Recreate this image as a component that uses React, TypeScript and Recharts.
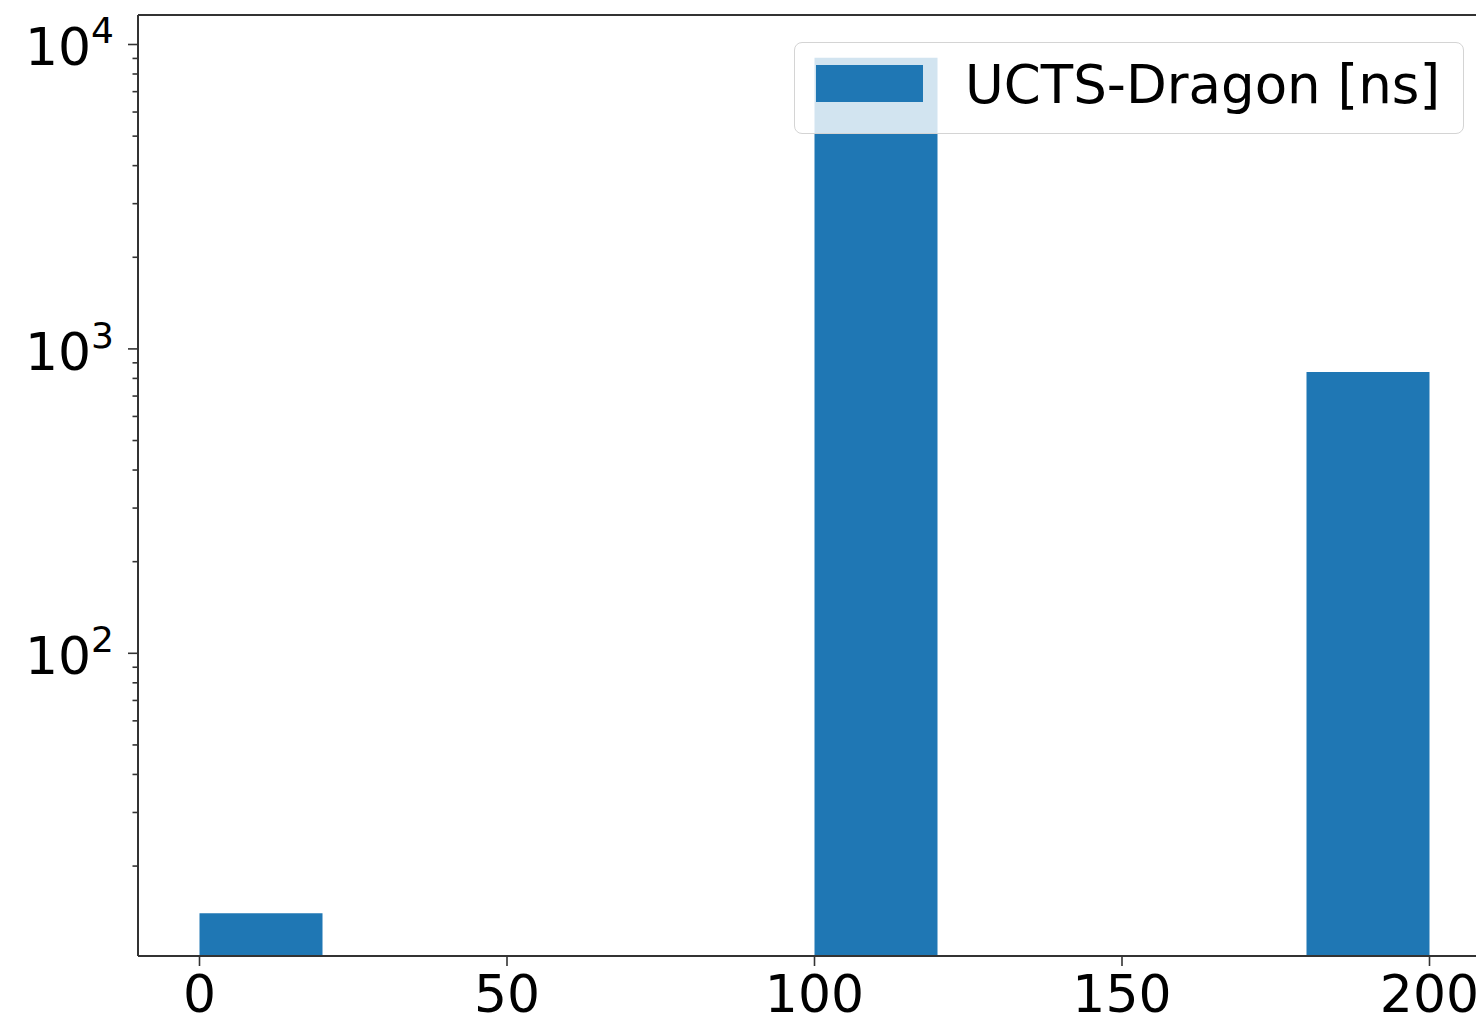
import { BarChart, Bar, XAxis, YAxis, Legend, ReferenceLine } from 'recharts';

// histogram bins (width 20), empty bins left as null for the log axis
const BIN_WIDTH = 20;
const binStarts = [0, 20, 40, 60, 80, 100, 120, 140, 160, 180];
const counts: (number | null)[] = [14, null, null, null, null, 9050, null, null, null, 840];

const xTicks = [0, 50, 100, 150, 200];
const yMajor = [100, 1000, 10000];
const yMinor = [
  20, 30, 40, 50, 60, 70, 80, 90,
  200, 300, 400, 500, 600, 700, 800, 900,
  2000, 3000, 4000, 5000, 6000, 7000, 8000, 9000,
];
const yExp: Record<number, string> = { 100: '2', 1000: '3', 10000: '4' };
const Y_DOMAIN: [number, number] = [10.13, 12500];

const SERIES = 'UCTS-Dragon [ns]';
const BLUE = '#1f77b4';
const AXIS = '#333';
const FONT = '"DejaVu Sans", sans-serif';

const data = binStarts.map((s, i) => ({ mid: s + BIN_WIDTH / 2, count: counts[i] }));

function XTick(props: any) {
  const { x, y, payload } = props;
  return (
    <g>
      <line x1={x} x2={x} y1={y} y2={y + 10} stroke={AXIS} strokeWidth={1.6} />
      <text x={x} y={y + 56} textAnchor="middle" fontSize={52} fill="#000" fontFamily={FONT}>
        {payload.value}
      </text>
    </g>
  );
}

function YTick(props: any) {
  const { x, y, payload } = props;
  const major = yMajor.includes(payload.value);
  return (
    <g>
      <line x1={x - (major ? 10 : 5.5)} x2={x} y1={y} y2={y} stroke={AXIS} strokeWidth={1.6} />
      {major && (
        <text x={x - 24} y={y + 21} textAnchor="end" fontSize={52} fill="#000" fontFamily={FONT}>
          10
          <tspan dy={-22} fontSize={36}>{yExp[payload.value]}</tspan>
        </text>
      )}
    </g>
  );
}

function LegendBox() {
  return (
    <div
      style={{
        boxSizing: 'border-box',
        width: 670,
        height: 92,
        border: '1.5px solid #d4d4d4',
        borderRadius: 8,
        background: 'rgba(255,255,255,0.8)',
        position: 'relative',
        fontFamily: FONT,
      }}
    >
      <div style={{ position: 'absolute', left: 21, top: 22, width: 107, height: 37, background: BLUE }} />
      <div style={{ position: 'absolute', left: 170, top: 10, fontSize: 53, lineHeight: '64px', color: '#000', whiteSpace: 'nowrap' }}>
        {SERIES}
      </div>
    </div>
  );
}

export default function App() {
  return (
    <div style={{ position: 'absolute', left: 0, top: 0, width: 1476, height: 1020, overflow: 'hidden', background: '#fff' }}>
      <BarChart
        width={1500}
        height={1020}
        data={data}
        barCategoryGap={0}
        barGap={0}
        margin={{ top: 15, right: 9, bottom: 0, left: 0 }}
      >
        <XAxis
          dataKey="mid"
          type="number"
          domain={[-10, 210]}
          allowDataOverflow
          ticks={xTicks}
          interval={0}
          height={64}
          tickSize={0}
          tickMargin={0}
          tick={<XTick />}
          axisLine={{ stroke: AXIS, strokeWidth: 2 }}
        />
        <YAxis
          scale="log"
          domain={Y_DOMAIN}
          allowDataOverflow
          ticks={[...yMinor, ...yMajor]}
          interval={0}
          width={138}
          tickSize={0}
          tickMargin={0}
          tick={<YTick />}
          axisLine={{ stroke: AXIS, strokeWidth: 2 }}
        />
        <Bar dataKey="count" name={SERIES} fill={BLUE} isAnimationActive={false} />
        <ReferenceLine y={Y_DOMAIN[1]} stroke={AXIS} strokeWidth={2} ifOverflow="visible" />
        <Legend
          layout="horizontal"
          verticalAlign="middle"
          align="center"
          content={() => <LegendBox />}
          wrapperStyle={{ left: 794, top: 42, width: 670, height: 92 }}
        />
      </BarChart>
    </div>
  );
}
